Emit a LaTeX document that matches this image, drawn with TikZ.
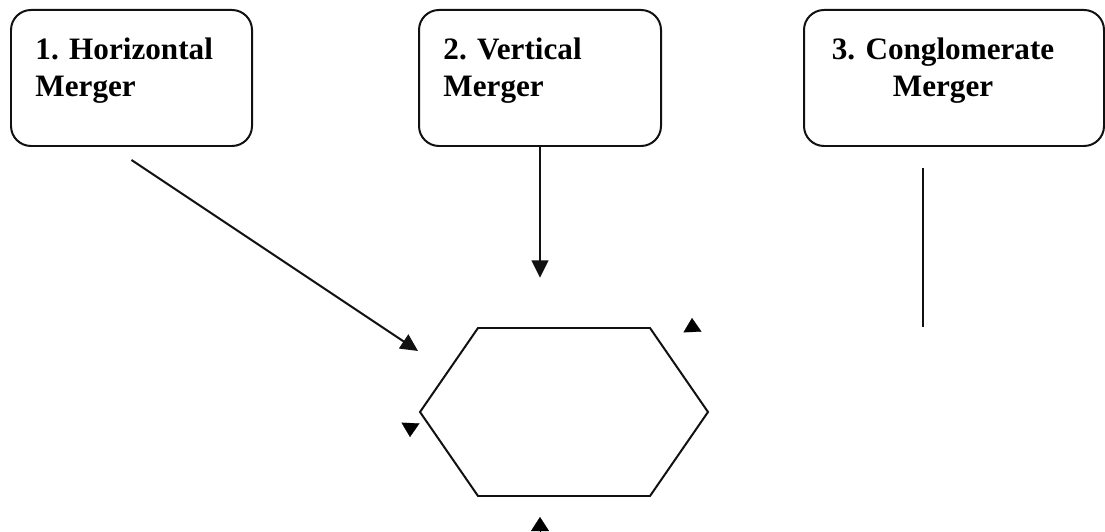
\documentclass[tikz,border=0pt]{standalone}
\usepackage{xcolor}
\usepackage{fontspec}
\setmainfont{Liberation Serif}
\usetikzlibrary{arrows.meta}
\definecolor{MGLine}{HTML}{111111}

\begin{document}
\begin{tikzpicture}[x=1cm,y=1cm,
  mbox/.style={draw=MGLine,line width=0.85pt,rounded corners=0.3cm,minimum height=2.04cm,inner sep=0pt},
  mtext/.style={inner sep=0pt,font=\fontsize{13.3}{15.8}\selectfont\bfseries},
  mline/.style={MGLine,line width=0.85pt},
  marrow/.style={mline,-{Triangle[length=0.26cm,width=0.25cm]}},
  mstub/.style={line width=0.1pt,-{Triangle[length=0.21cm,width=0.27cm]}}]
\path[use as bounding box] (0,0) rectangle (16.575,7.965);
\node[mbox,minimum width=3.615cm] (hor) at (1.9725,6.795) {};
\node[mbox,minimum width=3.63cm] (ver) at (8.10,6.795) {};
\node[mbox,minimum width=4.50cm] (con) at (14.31,6.795) {};
\node[mtext,anchor=north west,align=left] (hortxt) at ([xshift=0.375cm,yshift=-0.42cm]hor.north west) {1. Horizontal\\Merger};
\node[mtext,anchor=north west,align=left] (vertxt) at ([xshift=0.375cm,yshift=-0.42cm]ver.north west) {2. Vertical\\Merger};
\node[mtext,anchor=north,align=center] (context) at ([xshift=-0.165cm,yshift=-0.42cm]con.north) {3. Conglomerate\\Merger};
\coordinate (horstart) at ([yshift=-0.195cm]hor.south);
\coordinate (hortip) at (6.27,2.70);
\coordinate (vertip) at (8.10,3.80);
\coordinate (contop) at (13.84,5.445);
\coordinate (conbot) at (13.84,3.06);
\draw[marrow] (horstart) -- (hortip);
\draw[marrow] (ver.south) -- (vertip);
\draw[mline] (contop) -- (conbot);
\draw[mline,line join=miter] (7.17,3.045) -- (9.75,3.045) -- (10.62,1.785) -- (9.75,0.525) -- (7.17,0.525) -- (6.30,1.785) -- cycle;
\coordinate (stubA) at (10.3875,2.985);
\coordinate (stubAtip) at (10.38,3.195);
\coordinate (stubB) at (6.1575,1.62);
\coordinate (stubBtip) at (6.15,1.41);
\coordinate (stubC) at (8.10,0);
\coordinate (stubCtip) at (8.10,0.21);
\draw[mstub] (stubA) -- (stubAtip);
\draw[mstub] (stubB) -- (stubBtip);
\draw[mstub] (stubC) -- (stubCtip);
\end{tikzpicture}
\end{document}
